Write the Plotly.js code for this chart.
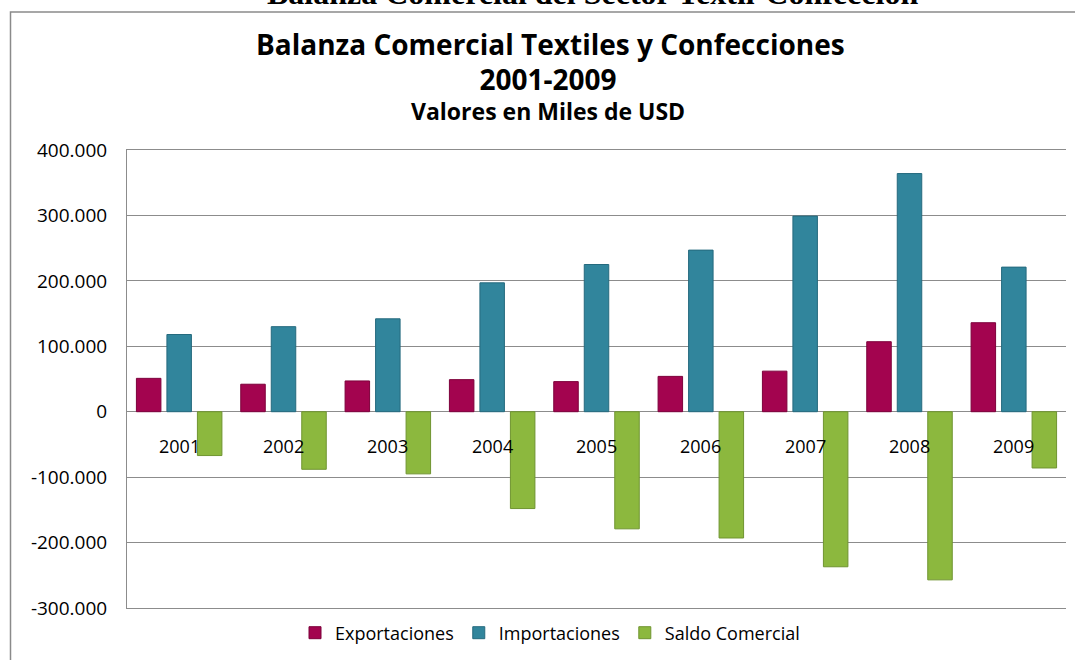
<!DOCTYPE html>
<html>
<head>
<meta charset="utf-8">
<script src="https://cdn.plot.ly/plotly-3.0.1.min.js"></script>
<style>html,body{margin:0;padding:0;background:#fff;}#chart{width:1075px;height:660px;}</style>
</head>
<body>
<div id="chart"></div>
<script>
// ---- data ----
const years = ["2001","2002","2003","2004","2005","2006","2007","2008","2009"];
const exportaciones = [51000, 42000, 47000, 49000, 46000, 54000, 62000, 107000, 136000];
const importaciones = [118000, 130000, 142000, 197000, 225000, 247000, 299000, 364000, 221000];
const saldoComercial = [-67000, -88000, -95000, -148000, -179000, -193000, -237000, -257000, -86000];
const yTickVals = [-300000, -200000, -100000, 0, 100000, 200000, 300000, 400000];
const yTickText = ["-300.000", "-200.000", "-100.000", "0", "100.000", "200.000", "300.000", "400.000"];

// ---- layout geometry ----
const W = 1075, H = 660;
const M = {l: 127, r: 9, t: 150, b: 52};
const PW = W - M.l - M.r, PH = H - M.t - M.b;
const px = x => (x - M.l) / PW;
const py = y => (H - M.b - y) / PH;

const FONT = "'Open Sans', sans-serif";
const TFONT = "'Open Sans', sans-serif";
const GRID = "#8c8c8c";

function barTrace(name, vals, color, lineColor) {
  return {
    type: "bar", name: name, x: years, y: vals,
    marker: {color: color, line: {color: lineColor, width: 1}},
    hoverinfo: "x+y+name"
  };
}

const data = [
  barTrace("Exportaciones", exportaciones, "#A3044F", "#7d003b"),
  barTrace("Importaciones", importaciones, "#31859C", "#256a7e"),
  barTrace("Saldo Comercial", saldoComercial, "#8CB83E", "#6f9430")
];

const annotations = [
  {text: "<b>Balanza Comercial del Sector Textil-Confección</b>", xref: "paper", yref: "paper",
   x: px(592), y: py(13), xanchor: "center", yanchor: "bottom", showarrow: false,
   font: {family: "'Liberation Serif', 'Times New Roman', serif", size: 32, color: "#000"}},
  {text: "<b>Balanza Comercial Textiles y Confecciones</b>", xref: "paper", yref: "paper",
   x: px(550), y: py(44), xanchor: "center", yanchor: "middle", showarrow: false, borderpad: 0,
   font: {family: TFONT, size: 28, color: "#000"}},
  {text: "<span style='font-size:28px'><b>2001-2009</b></span><br><b>Valores en Miles de USD</b>",
   xref: "paper", yref: "paper", align: "center",
   x: px(548), y: py(94), xanchor: "center", yanchor: "middle", showarrow: false, borderpad: 0,
   font: {family: TFONT, size: 23, color: "#000"}}
];
years.forEach((yr, i) => {
  annotations.push({text: yr, xref: "x", yref: "y", x: i, y: 0, yshift: -34,
    xanchor: "center", yanchor: "middle", showarrow: false,
    font: {family: FONT, size: 18, color: "#000"}});
});

const layout = {
  width: W, height: H,
  margin: M,
  paper_bgcolor: "#fff", plot_bgcolor: "#fff",
  barmode: "group", bargap: 0.123, bargroupgap: 0.197,
  showlegend: true,
  legend: {orientation: "h", x: px(550), y: py(633), xanchor: "center", yanchor: "middle",
    font: {family: FONT, size: 18, color: "#000"}, itemwidth: 30, traceorder: "normal"},
  xaxis: {type: "category", range: [-0.5, 8.5], showticklabels: false, showgrid: false, zeroline: false,
    showline: true, mirror: true, linecolor: GRID, linewidth: 1, ticks: "", fixedrange: true},
  yaxis: {range: [-300000, 400000], tickvals: yTickVals, ticktext: yTickText,
    showgrid: true, gridcolor: GRID, gridwidth: 1,
    zeroline: true, zerolinecolor: GRID, zerolinewidth: 1,
    showline: true, linecolor: GRID, linewidth: 1,
    ticks: "", ticklabelstandoff: 15,
    tickfont: {family: FONT, size: 19, color: "#000"}, fixedrange: true},
  annotations: annotations,
  shapes: [
    {type: "rect", xref: "paper", yref: "paper", x0: px(10.5), x1: px(1100), y0: py(700), y1: py(12),
     line: {color: "#8a8a8a", width: 1.5}, fillcolor: "rgba(0,0,0,0)", layer: "below"}
  ]
};

Plotly.newPlot("chart", data, layout, {displayModeBar: false, staticPlot: true});
</script>
</body>
</html>
